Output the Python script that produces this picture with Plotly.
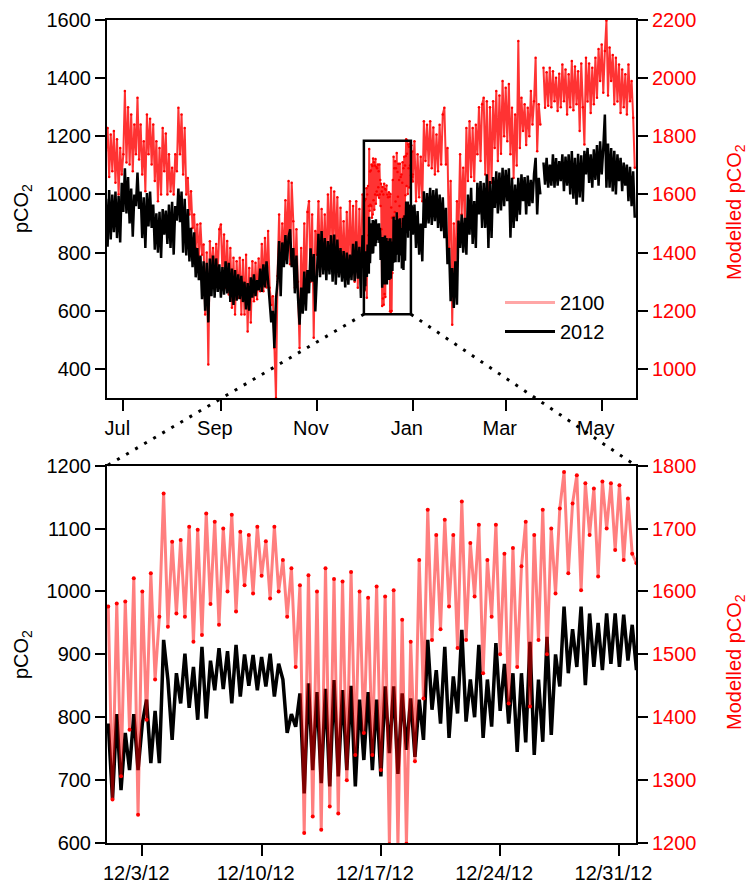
import pandas as pd
import plotly.graph_objects as go

# ---------------- daily pCO2 (2012 observations, uatm) ----------------
obs_jun = [985, 820, 1015, 845, 1000, 870, 1010, 850, 995, 835, 1040]            # Jun 20-30
obs_jul = [940, 1090, 935, 1060, 900, 1020, 855, 1000, 960, 1075, 950, 1010, 850, 990, 816, 1005,
           890, 1010, 885, 965, 810, 935, 800, 940, 782, 950, 862, 945, 830, 965, 816]
obs_aug = [975, 793, 960, 910, 1020, 905, 1010, 800, 985, 790, 950, 770, 885, 750, 870, 715,
           816, 705, 790, 640, 770, 600, 765, 560, 780, 650, 790, 645, 780, 665, 760]
obs_sep = [645, 750, 655, 770, 660, 765, 630, 745, 620, 740, 635, 725, 640, 720, 630, 700,
           605, 695, 600, 715, 645, 725, 650, 705, 670, 745, 665, 760, 680, 770]
obs_oct = [700, 645, 560, 600, 472, 640, 700, 840, 650, 835, 750, 860, 760, 855, 880, 750,
           816, 660, 790, 645, 552, 680, 590, 735, 600, 740, 660, 815, 700, 795, 598]
obs_nov = [720, 865, 715, 874, 725, 850, 705, 840, 725, 860, 700, 862, 690, 845, 715, 816,
           700, 805, 680, 800, 690, 793, 705, 830, 702, 839, 710, 820, 644, 860]
obs_jan = [862, 965, 816, 943, 793, 900, 770, 1011, 885, 1005, 900, 1023, 895, 1015, 908, 1020,
           885, 1000, 874, 990, 850, 954, 760, 816, 633, 747, 610, 770, 621, 910, 816]
obs_feb = [931, 800, 920, 793, 1000, 862, 1023, 830, 977, 816, 1040, 931, 1046, 885, 1040, 885,
           1069, 816, 1046, 850, 1060, 954, 1080, 935, 1075, 945, 1092, 960]
obs_mar = [1085, 977, 1090, 851, 1057, 885, 1034, 908, 1057, 930, 1069, 977, 1060, 931, 1065, 960,
           1050, 970, 1070, 1126, 931, 1057, 1000, None, 1110, 1034, 1126, 1023, 1103, 1030, 1138]
obs_apr = [1023, 1125, 1030, 1115, 1046, 1138, 1011, 1130, 1030, 1138, 1000, 1149, 985, 1126, 965, 1140,
           990, 1135, 975, 1150, 1069, 1160, 1040, 1138, 1023, 1155, 1050, 1170, 1030, 1183]
obs_may = [1069, 1160, 1275, 1023, 1175, 1023, 1160, 1010, 1150, 1000, 1138, 1046, 1126, 1011, 1110, 1030,
           1103, 977, 1095, 960, 1080, 920]                                          # May 1-22

# ---------------- daily modelled pCO2 for 2100 (uatm) ----------------
mod_jun = [1750, 1829, 1660, 1806, 1680, 1818, 1640, 1790, 1600, 1760, 1669]
mod_jul = [1738, 1956, 1710, 1900, 1703, 1875, 1680, 1841, 1738, 1933, 1720, 1841, 1669, 1783, 1611, 1875,
           1738, 1860, 1703, 1841, 1646, 1783, 1577, 1760, 1600, 1829, 1680, 1810, 1600, 1738, 1610]
mod_aug = [1692, 1600, 1738, 1680, 1898, 1738, 1875, 1669, 1829, 1600, 1657, 1531, 1611, 1485, 1531, 1416,
           1497, 1382, 1500, 1393, 1428, 1187, 1400, 1015, 1439, 1325, 1416, 1302, 1430, 1325, 1480]
mod_sep = [1497, 1325, 1462, 1279, 1440, 1256, 1416, 1210, 1382, 1187, 1370, 1244, 1382, 1187, 1375, 1187,
           1393, 1129, 1347, 1160, 1370, 1233, 1365, 1240, 1380, 1267, 1430, 1267, 1450, 1280]
mod_oct = [1474, 1279, 1220, 1250, 1072, 900, 1320, 1531, 1302, 1500, 1380, 1580, 1416, 1646, 1360, 1640,
           1508, 1279, 1480, 1300, 1072, 1416, 1200, 1500, 1244, 1540, 1577, 1300, 1531, 1107, 1474]
mod_nov = [1393, 1577, 1325, 1550, 1360, 1531, 1340, 1600, 1416, 1623, 1400, 1610, 1416, 1590, 1325, 1554,
           1340, 1508, 1325, 1540, 1335, 1577, 1347, 1560, 1300, 1577, 1279, 1550, 1320, 1600]
mod_jan = [1669, 1783, 1577, 1738, 1590, 1730, 1577, 1852, 1715, 1840, 1700, 1852, 1690, 1830, 1669, 1806,
           1680, 1840, 1703, 1875, 1898, 1703, 1760, 1416, 1646, 1152, 1500, 1302, 1577, 1474, 1738]
mod_feb = [1531, 1692, 1500, 1829, 1646, 1852, 1660, 1829, 1646, 1840, 1738, 1900, 1715, 1910, 1933, 1669,
           1921, 1588, 1900, 1640, 1921, 1760, 1956, 1715, 1940, 1740, 1990, 1800]
mod_mar = [1967, 1783, 1980, 1738, 1898, 1657, 1875, 1700, 2128, 1760, 1933, 1818, 1910, 1770, 1898, 1800,
           1956, 1841, 1921, 2070, 1749, 1910, 1841, None, 2036, 1898, 2020, 1905, 2036, 1900, 2024]
mod_apr = [1921, 2001, 1887, 2015, 1900, 2047, 1921, 2030, 1875, 2013, 1900, 2059, 1890, 2040, 1910, 2024,
           1818, 2050, 1900, 1772, 2070, 1920, 2050, 1880, 2036, 1910, 2070, 1933, 2100, 1990]
mod_may = [2116, 1950, 2093, 2198, 1940, 2105, 1990, 2080, 1910, 2070, 1920, 2047, 1880, 2030, 1900, 2013,
           1875, 2047, 1921, 1990, 1864, 1692]

# ---------------- 6-hourly detail, 1 Dec 2012 00:00 -> 1 Jan 2013 00:00 ----------------
dec_obs = [790, 670, 805, 684,  775, 716, 805, 716,  790, 828, 727, 810,  727, 923, 860, 764,
           870, 822, 901, 815,  880, 796, 912, 798,  890, 843, 910, 845,  905, 822, 915, 833,
           900, 850, 899, 843,  896, 849, 901, 833,  885, 860, 775, 805,  785, 838, 679, 854,
           716, 840, 695, 845,  690, 859, 706, 843,  716, 850, 690, 828,  732, 840, 716, 828,
           706, 849, 743, 849,  710, 838, 748, 830,  737, 828, 764, 923,  812, 875, 790, 912,
           767, 865, 806, 939,  793, 860, 800, 915,  767, 860, 785, 918,  810, 885, 790, 870,
           745, 870, 760, 920,  740, 860, 761, 928,  772, 900, 849, 976,  870, 940, 880, 976,
           851, 965, 880, 950,  875, 965, 885, 965,  880, 963, 890, 947,  875]
dec_mod = [1576, 1269, 1581, 1306,  1584, 1380, 1621, 1245,  1600, 1396, 1629, 1460,  1560, 1756, 1544, 1679,
           1565, 1682, 1560, 1703,  1520, 1698, 1531, 1724,  1580, 1711, 1547, 1700,  1600, 1722, 1568, 1695,
           1610, 1690, 1597, 1703,  1625, 1680, 1589, 1703,  1600, 1650, 1560, 1637,  1480, 1610, 1216, 1626,
           1242, 1600, 1221, 1637,  1258, 1620, 1247, 1616,  1300, 1631, 1340, 1600,  1375, 1590, 1340, 1608,
           1316, 1592, 1198, 1602,  1196, 1555, 1199, 1520,  1330, 1650, 1430, 1730,  1523, 1690, 1540, 1714,
           1576, 1690, 1510, 1743,  1523, 1677, 1592, 1706,  1470, 1650, 1560, 1706,  1500, 1660, 1422, 1669,
           1480, 1640, 1711, 1417,  1690, 1523, 1730, 1500,  1700, 1597, 1732, 1790,  1629, 1740, 1785, 1602,
           1772, 1690, 1764, 1624,  1775, 1700, 1772, 1666,  1769, 1650, 1748, 1660,  1645]

month_ticks = ["2012-07-01", "2012-09-01", "2012-11-01", "2013-01-01", "2013-03-01", "2013-05-01"]
month_labels = ["Jul", "Sep", "Nov", "Jan", "Mar", "May"]
week_ticks = ["2012-12-03", "2012-12-10", "2012-12-17", "2012-12-24", "2012-12-31"]
week_labels = ["12/3/12", "12/10/12", "12/17/12", "12/24/12", "12/31/12"]
legend_names = ["2100", "2012"]

# ---------------- assemble the series ----------------
pre_obs = obs_jun + obs_jul + obs_aug + obs_sep + obs_oct + obs_nov
pre_mod = mod_jun + mod_jul + mod_aug + mod_sep + mod_oct + mod_nov
post_obs = obs_jan + obs_feb + obs_mar + obs_apr + obs_may
post_mod = mod_jan + mod_feb + mod_mar + mod_apr + mod_may

pre_dates = pd.date_range("2012-06-20", periods=len(pre_obs), freq="D")
post_dates = pd.date_range("2013-01-01", periods=len(post_obs), freq="D")
dec_dates = pd.date_range("2012-12-01", periods=len(dec_obs), freq="6h")

top_x = list(pre_dates) + list(dec_dates) + list(post_dates)
top_obs = pre_obs + dec_obs + post_obs
top_mod = pre_mod + dec_mod + post_mod

# ---------------- layout geometry ----------------
W, H = 749, 888
M = dict(l=107, r=113, t=20, b=45)
top_dom = [0.5407, 1.0]
bot_dom = [0.0, 0.4584]
top_range = [pd.Timestamp("2012-06-20 15:00"), pd.Timestamp("2013-05-22 19:00")]
bot_range = [pd.Timestamp("2012-11-30 22:15"), pd.Timestamp("2012-12-31 23:20")]
top_left_range = [300, 1600]
top_right_range = [900, 2200]

RED = "#ff0000"
FONT = "Liberation Sans, Arial, sans-serif"

fig = go.Figure()

# upper panel: modelled series on the base (right) axis, observations overlaid on the left axis
fig.add_trace(go.Scatter(x=top_x, y=top_mod, xaxis="x", yaxis="y", mode="lines+markers",
                         line=dict(color="rgba(255,0,0,0.8)", width=2),
                         marker=dict(color=RED, size=2.5), showlegend=False, hoverinfo="skip"))
fig.add_trace(go.Scatter(x=top_x, y=top_obs, xaxis="x", yaxis="y2", mode="lines",
                         line=dict(color="black", width=2.5), showlegend=False, hoverinfo="skip"))

# lower panel: December detail
fig.add_trace(go.Scatter(x=dec_dates, y=dec_obs, xaxis="x2", yaxis="y3", mode="lines",
                         line=dict(color="black", width=3.5), showlegend=False, hoverinfo="skip"))
fig.add_trace(go.Scatter(x=dec_dates, y=dec_mod, xaxis="x2", yaxis="y4", mode="lines+markers",
                         line=dict(color="rgba(255,0,0,0.5)", width=3),
                         marker=dict(color=RED, size=4), showlegend=False, hoverinfo="skip"))

# legend keys
fig.add_trace(go.Scatter(x=[None], y=[None], xaxis="x", yaxis="y2", mode="lines", name=legend_names[0],
                         line=dict(color="rgba(255,0,0,0.35)", width=3)))
fig.add_trace(go.Scatter(x=[None], y=[None], xaxis="x", yaxis="y2", mode="lines", name=legend_names[1],
                         line=dict(color="black", width=3)))

axis_style = dict(showline=True, linecolor="black", linewidth=2, ticks="outside", tickcolor="black",
                  tickwidth=2, showgrid=False, zeroline=False, tickfont=dict(size=20, color="black"))

fig.update_layout(
    width=W, height=H, margin=dict(**M, autoexpand=False),
    paper_bgcolor="white", plot_bgcolor="white",
    font=dict(family=FONT, size=20, color="black"),
    xaxis=dict(domain=[0, 1], anchor="y", type="date", range=top_range, tickvals=month_ticks,
               ticktext=month_labels, ticklen=11, mirror=True, ticklabelshift=-6, **axis_style),
    yaxis=dict(domain=top_dom, anchor="x", side="right", range=top_right_range,
               tickvals=list(range(1000, 2201, 200)), ticklen=10,
               **{**axis_style, "tickfont": dict(size=20, color=RED)}),
    yaxis2=dict(overlaying="y", anchor="x", side="left", range=top_left_range,
                tickvals=list(range(400, 1601, 200)), ticklen=10, **axis_style),
    xaxis2=dict(domain=[0, 1], anchor="y3", type="date", range=bot_range, tickvals=week_ticks,
                ticktext=week_labels, ticklen=11, mirror=True, ticklabelshift=-6, **axis_style),
    yaxis3=dict(domain=bot_dom, anchor="x2", side="left", range=[600, 1200],
                tickvals=list(range(600, 1201, 100)), ticklen=10, **axis_style),
    yaxis4=dict(overlaying="y3", anchor="x2", side="right", range=[1200, 1800],
                tickvals=list(range(1200, 1801, 100)), ticklen=10,
                **{**axis_style, "tickfont": dict(size=20, color=RED)}),
    legend=dict(x=(500 - M["l"]) / (W - M["l"] - M["r"]), y=(H - M["b"] - 283) / (H - M["t"] - M["b"]),
                xanchor="left", yanchor="top", bgcolor="rgba(0,0,0,0)", font=dict(size=20),
                itemwidth=50, tracegroupgap=0),
)

# zoom box in the upper panel and the dotted connectors to the lower panel
box_x = [pd.Timestamp("2012-11-30 21:00"), pd.Timestamp("2012-12-30 18:00")]
box_y = [588, 1185]


def top_px(ts):
    return (ts - top_range[0]) / (top_range[1] - top_range[0])


def top_py(v):
    return top_dom[0] + (v - top_left_range[0]) / (top_left_range[1] - top_left_range[0]) * (top_dom[1] - top_dom[0])


shapes = [dict(type="rect", xref="x", yref="y2", x0=box_x[0], x1=box_x[1], y0=box_y[0], y1=box_y[1],
               line=dict(color="black", width=2.5))]
for corner_x, panel_x in ((box_x[0], 0.0), (box_x[1], 1.0)):
    shapes.append(dict(type="line", xref="paper", yref="paper",
                       x0=top_px(corner_x), y0=top_py(box_y[0]), x1=panel_x, y1=bot_dom[1],
                       line=dict(color="black", width=3, dash="3px,7.5px")))
fig.update_layout(shapes=shapes)

# axis titles
plot_w = W - M["l"] - M["r"]
plot_h = H - M["t"] - M["b"]
titles = [
    ("pCO<sub>2</sub>", 22, 209, "black"),
    ("pCO<sub>2</sub>", 22, 655, "black"),
    ("Modelled pCO<sub>2</sub>", 735, 212, RED),
    ("Modelled pCO<sub>2</sub>", 735, 662, RED),
]
for text, px, py, col in titles:
    fig.add_annotation(text=text, xref="paper", yref="paper",
                       x=(px - M["l"]) / plot_w, y=(H - M["b"] - py) / plot_h,
                       textangle=-90, showarrow=False, font=dict(size=20, color=col),
                       xanchor="center", yanchor="middle")

fig.write_html("out.html")
